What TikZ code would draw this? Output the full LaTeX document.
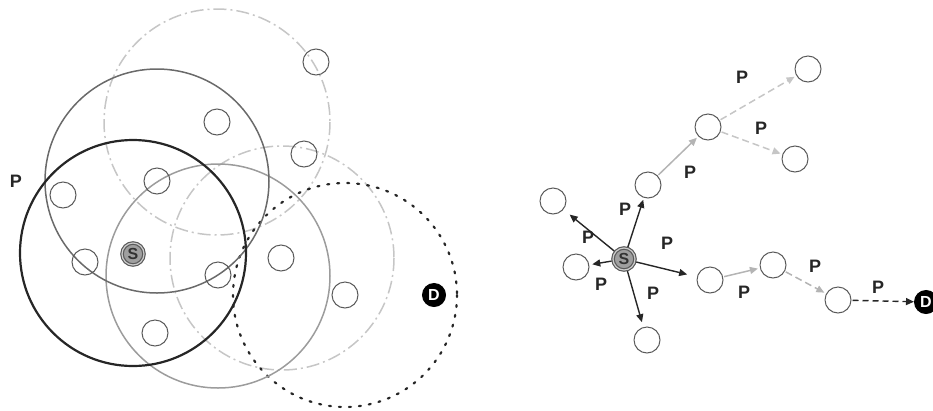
\documentclass[tikz,border=0pt]{standalone}
\usepackage{fontspec}
\setmainfont{Liberation Sans}
\usetikzlibrary{arrows.meta}
\definecolor{ndgray}{HTML}{5A5A5A}
\definecolor{cdark}{HTML}{6A6A6A}
\definecolor{cmid}{HTML}{9C9C9C}
\definecolor{clight}{HTML}{C6C6C6}
\definecolor{alight}{HTML}{B4B4B4}
\tikzset{
  nd/.style={circle,draw=ndgray,line width=1pt,minimum size=26pt,inner sep=0pt},
  snode/.style={circle,draw=ndgray,line width=1.2pt,fill=gray!75,double=gray!40,double distance=1.2pt,minimum size=22pt,inner sep=0pt,font=\bfseries\fontsize{16}{16}\selectfont,text=black!80},
  dnode/.style={circle,draw=black,fill=black,line width=1pt,minimum size=23pt,inner sep=0pt,font=\bfseries\fontsize{16}{16}\selectfont,text=white},
  plab/.style={font=\bfseries\fontsize{18}{18}\selectfont,text=black!85,inner sep=0pt},
  rng/.style={line width=1.5pt},
  dashdot/.style={dash pattern=on 13pt off 4pt on 2pt off 4pt},
  tip/.style={-{Triangle[length=8pt,width=7pt]}},
  blk/.style={tip,line width=1.4pt,black!85,shorten >=2pt,shorten <=1pt},
  gry/.style={tip,line width=1.5pt,alight,shorten >=2pt,shorten <=1pt},
  gdash/.style={gry,dash pattern=on 7pt off 4pt},
}
\begin{document}
\begin{tikzpicture}[x=1pt,y=-1pt]
\useasboundingbox (0,0) rectangle (933,410);
% ---- left: ranges ----
\draw[rng,clight,dashdot] (217,122) circle (113);
\draw[rng,clight,dashdot] (282,258) circle (112);
\draw[line width=2.2pt,black!85,dash pattern=on 2pt off 8pt,line cap=round] (345,295) circle (112);
\draw[rng,cmid] (218,276) circle (112);
\draw[rng,cdark] (157,181) circle (112);
\draw[line width=2.2pt,black!85] (133,253) circle (113);
% ---- left: nodes ----
\node[nd] (l1) at (316,62) {};
\node[nd] (l2) at (217,122) {};
\node[nd] (l3) at (304,154) {};
\node[nd] (l4) at (157,181) {};
\node[nd] (l5) at (63,195) {};
\node[nd] (l6) at (85,262) {};
\node[nd] (l7) at (218,275) {};
\node[nd] (l8) at (281,258) {};
\node[nd] (l9) at (345,295) {};
\node[nd] (l10) at (155,333) {};
\node[snode] (ls) at (133,254) {S};
\node[dnode] (ld) at (434,295) {D};
\node[plab] (lp) at (16,181) {P};
% ---- right: nodes ----
\node[nd] (a) at (553,201) {};
\node[nd] (b) at (576,267) {};
\node[snode] (s) at (624,259) {S};
\node[nd] (c) at (648,185) {};
\node[nd] (e) at (708,127) {};
\node[nd] (f) at (808,69) {};
\node[nd] (g) at (795,159) {};
\node[nd] (h) at (710,280) {};
\node[nd] (i) at (773,265) {};
\node[nd] (j) at (838,300) {};
\node[nd] (k) at (647,340) {};
\node[dnode] (d) at (926,302) {D};
% ---- right: arrows ----
\draw[blk,shorten >=8pt] (s) -- (a);
\draw[blk,shorten >=3pt] (s) -- (b);
\draw[blk] (s) -- (c);
\draw[blk,shorten >=10pt] (s) -- (h);
\draw[blk,shorten >=5pt] (s) -- (k);
\draw[gry] (c) -- (e);
\draw[gdash,clight] (e) -- (f);
\draw[gdash,clight] (e) -- (g);
\draw[gry] (h) -- (i);
\draw[gdash] (i) -- (j);
\draw[blk,dash pattern=on 6pt off 4pt,shorten >=0pt] (j) -- (d);
% ---- right: labels ----
\node[plab] at (742,77) {P};
\node[plab] at (761,128) {P};
\node[plab] at (690,172) {P};
\node[plab] at (625,209) {P};
\node[plab] at (588,237) {P};
\node[plab] at (667,243) {P};
\node[plab] at (601,284) {P};
\node[plab] at (653,293) {P};
\node[plab] at (744,292) {P};
\node[plab] at (815,266) {P};
\node[plab] at (878,287) {P};
\end{tikzpicture}
\end{document}
